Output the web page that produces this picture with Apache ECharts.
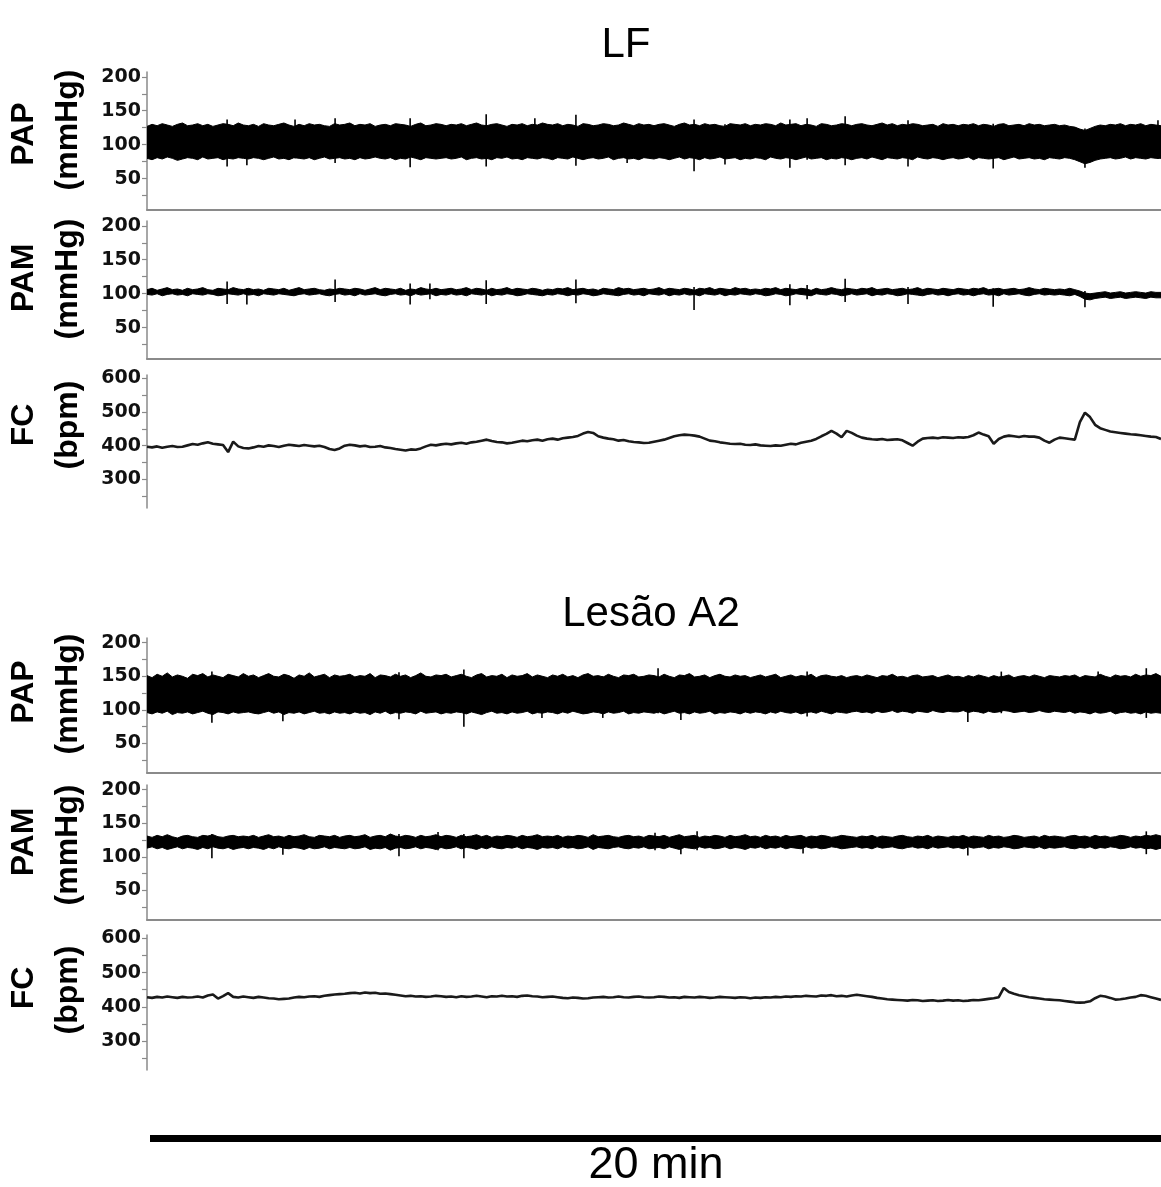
<!DOCTYPE html>
<html><head><meta charset="utf-8">
<script src="https://cdn.jsdelivr.net/npm/echarts@6/dist/echarts.min.js"></script>
<style>html,body{margin:0;padding:0;background:#fff}#c{width:1161px;height:1187px}</style>
</head><body><div id="c"></div>
<script>
// ---- time base: 201 samples spanning the 20 min recording ----
const sampleCount = 201;
const recordMinutes = 20;

// ---- LF : PAP envelope (mmHg) ----
const pap1Hi = [
127,130,128,131,129,127,130,132,128,129,131,128,130,127,129,131,130,128,132,129,
128,130,127,131,129,128,130,132,129,127,130,128,131,129,130,128,127,131,129,130,
132,128,130,129,131,127,129,130,128,131,130,129,127,130,132,128,129,131,130,128,
130,129,131,128,130,132,129,128,130,131,129,127,130,129,131,128,130,129,132,130,
129,131,128,130,129,127,131,130,128,129,131,130,128,129,132,130,128,131,129,130,
128,130,131,129,127,130,132,129,130,128,131,129,130,128,127,131,130,129,131,128,
130,129,131,130,128,132,129,130,131,128,130,129,127,131,130,128,129,131,130,128,
130,131,129,128,130,132,129,131,128,130,129,131,130,128,129,130,127,131,129,130,
128,130,129,131,128,130,129,127,130,131,128,129,130,128,131,129,130,128,129,130,
128,129,127,126,123,121,124,127,129,128,130,129,131,128,130,129,131,128,130,129,128];
const pap1Lo = [
80,78,81,79,82,80,77,79,81,80,78,82,79,80,81,78,80,79,81,80,
79,81,80,78,80,82,79,80,78,81,80,79,81,78,80,82,79,80,81,79,
80,78,81,79,80,82,80,79,81,78,80,79,82,80,78,81,80,79,80,81,
79,80,82,78,80,81,79,80,78,81,80,82,79,80,78,81,80,79,81,80,
78,81,80,79,82,80,78,80,81,79,80,82,78,80,81,79,80,78,81,80,
79,81,80,78,80,82,79,81,80,78,81,79,80,82,79,80,81,78,80,79,
81,80,78,82,80,79,81,80,78,80,82,79,80,81,78,80,79,81,80,78,
80,81,79,82,80,78,81,80,79,81,80,78,82,80,79,81,80,78,80,81,
79,80,82,78,81,80,79,80,81,78,80,82,79,80,81,79,80,78,81,80,
79,81,80,78,75,72,74,77,79,80,81,79,80,82,79,81,80,79,81,80,80];
const pap1SpikeT  = [1.58,1.97,2.92,3.71,5.19,6.69,7.65,8.46,9.47,10.79,11.40,12.68,13.02,13.77,15.01,16.69,18.50,19.94];
const pap1SpikeHi = [137,128,137,139,139,145,139,144,130,137,130,137,139,142,136,131,124,136];
const pap1SpikeLo = [68,70,80,73,67,68,80,69,73,61,71,66,78,70,68,65,66,79];

// ---- LF : PAM (mmHg) ----
const pam1Hi = [
106,108,105,107,109,106,107,105,108,106,107,109,106,105,108,107,106,109,107,106,
108,106,107,105,108,107,106,108,105,107,109,106,107,108,106,105,107,106,108,107,
106,108,107,105,107,109,106,108,107,106,108,105,107,106,109,107,106,108,106,107,
108,106,107,109,106,108,107,105,108,106,107,109,106,108,107,106,108,107,105,107,
106,108,107,109,106,107,108,106,107,105,108,107,106,109,107,108,106,107,108,106,
107,109,106,108,107,106,108,107,105,108,107,109,106,108,107,106,109,107,108,106,
107,106,108,107,109,106,108,107,106,108,107,105,108,106,107,109,107,106,108,107,
106,108,107,109,106,107,108,106,107,108,106,107,109,106,108,107,106,108,107,106,
108,107,106,108,107,109,106,107,108,106,107,108,106,107,109,107,106,108,107,106,
107,106,108,106,104,101,100,101,102,103,101,102,103,101,102,103,102,101,103,102,102];
const pam1Lo = [
99,98,100,97,99,100,98,99,97,100,99,98,100,99,97,98,100,99,98,100,
98,99,97,100,99,98,100,99,98,97,99,100,98,99,100,98,97,99,100,98,
99,97,100,98,99,100,98,97,99,100,98,99,97,100,98,99,100,97,99,98,
100,98,99,97,100,99,98,100,97,99,98,100,99,97,98,100,99,98,97,99,
98,100,99,97,99,98,100,99,97,98,100,99,98,97,99,100,98,99,97,100,
99,98,100,97,99,98,100,98,99,97,100,99,98,100,97,99,98,100,99,98,
100,99,97,98,100,99,97,98,100,99,98,97,100,99,98,100,99,97,98,100,
98,99,100,97,99,98,100,99,97,98,100,99,98,97,99,100,98,99,97,99,
100,98,99,97,99,100,98,99,97,100,98,99,100,98,97,99,100,98,99,98,
99,98,97,99,96,92,91,93,94,95,93,94,95,93,94,95,94,93,95,94,94];
const pam1SpikeT  = [1.58,1.97,3.71,5.19,5.58,6.69,8.46,10.79,12.68,13.02,13.77,15.01,16.69,18.50];
const pam1SpikeHi = [118,108,121,115,115,120,121,110,114,113,122,110,108,104];
const pam1SpikeLo = [85,84,88,84,92,85,86,76,83,92,88,85,81,80];

// ---- LF : FC (bpm) ----
const fc1 = [
397,395,398,394,397,399,396,397,401,405,
403,407,410,406,404,402,381,412,398,393,
392,395,399,397,401,399,396,400,403,401,
399,402,400,398,400,396,390,387,392,400,
403,401,398,400,396,397,399,395,393,390,
388,386,389,388,392,398,403,401,404,406,
404,407,409,406,410,412,415,418,414,411,
410,407,409,412,415,413,416,418,415,419,
421,418,422,424,426,429,436,441,438,428,
424,421,419,415,417,413,411,410,408,409,
412,415,418,423,428,431,433,432,430,427,
421,415,413,410,408,406,405,406,403,402,
404,401,400,399,401,400,403,406,404,409,
412,415,420,428,435,444,436,425,444,438,
430,424,421,419,418,420,417,418,419,416,
408,400,412,421,423,424,422,425,424,423,
425,424,426,431,439,433,428,406,420,427,
430,428,426,429,427,427,424,415,409,418,
424,422,420,418,470,498,485,462,452,447,
442,440,438,436,434,433,431,429,427,426,420];

// ---- Lesão A2 : PAP envelope (mmHg) ----
const pap2Hi = [
151,148,153,150,155,149,152,150,147,153,151,154,149,152,150,148,153,151,149,154,
150,152,148,151,154,150,149,153,151,147,152,150,155,149,151,153,148,152,150,151,
153,149,151,150,154,148,152,151,149,153,150,152,148,151,155,150,149,152,151,153,
149,151,153,150,148,152,154,149,151,150,153,148,152,150,151,154,149,152,150,148,
152,150,153,149,151,148,152,154,150,151,149,153,150,148,152,151,153,149,150,152,
151,149,153,150,148,152,151,154,149,150,152,148,151,153,150,149,152,150,151,148,
150,152,149,151,153,148,150,152,149,151,150,153,148,151,152,150,149,151,148,150,
151,149,152,150,148,151,150,153,149,150,148,151,152,149,150,151,148,150,152,149,
150,148,151,149,152,150,148,151,149,150,152,148,150,151,149,152,150,148,151,150,
149,151,150,152,148,151,150,149,153,150,148,152,150,151,149,153,150,152,151,154,150];
const pap2Lo = [
96,94,97,95,98,93,96,95,97,94,96,98,95,93,97,96,94,97,95,96,
97,95,94,96,98,95,97,93,96,95,97,94,96,98,95,96,94,97,95,96,
94,97,95,96,93,97,95,98,94,96,95,97,96,94,98,95,96,97,94,96,
95,97,96,94,97,95,93,96,98,95,96,94,97,95,96,98,94,96,95,97,
96,94,97,95,98,96,94,95,97,96,94,97,95,96,98,94,96,95,97,96,
95,97,94,96,98,95,96,94,97,95,96,98,94,96,95,97,96,94,97,95,
97,96,94,97,95,98,96,95,97,94,96,97,95,98,96,94,97,96,95,97,
98,96,97,95,98,96,97,99,96,98,97,95,98,97,96,99,97,96,98,97,
97,99,96,98,97,95,98,96,97,99,98,96,97,98,96,97,99,97,96,98,
97,96,98,95,97,96,94,97,95,96,98,94,96,97,95,96,94,97,95,96,95];
const pap2SpikeT  = [1.28,2.68,4.97,6.25,7.79,8.99,10.08,10.53,13.02,16.19,16.85,18.76,19.71];
const pap2SpikeHi = [157,150,156,160,150,150,162,150,157,150,157,157,162];
const pap2SpikeLo = [81,83,86,75,88,88,95,85,90,82,95,95,88];

// ---- Lesão A2 : PAM (mmHg) ----
const pam2Hi = [
131,129,132,130,133,130,128,131,132,130,129,132,131,133,130,129,131,132,130,131,
130,132,129,131,133,130,131,129,132,130,131,133,130,129,132,131,130,132,129,131,
132,130,131,133,129,131,132,130,134,131,130,132,131,129,132,130,131,133,130,132,
131,129,132,130,131,133,130,132,129,131,130,132,131,129,132,130,131,133,130,131,
130,132,129,131,130,132,131,129,133,130,131,132,130,129,131,132,130,131,129,132,
131,130,132,129,131,133,130,131,132,129,131,130,132,131,129,132,130,131,133,130,
131,129,132,130,131,129,132,130,131,132,129,131,130,132,131,129,130,132,131,130,
129,131,130,132,129,131,130,129,131,132,130,129,131,130,132,129,131,130,129,131,
130,132,129,131,130,129,132,130,131,129,130,132,131,129,130,131,129,132,130,131,
130,129,131,132,130,131,129,132,130,131,129,130,132,131,129,131,130,132,131,133,131];
const pam2Lo = [
113,115,112,114,111,113,115,112,114,113,111,114,112,115,113,112,114,111,113,114,
112,114,113,111,114,112,115,113,112,114,113,111,114,112,113,115,112,114,113,112,
114,112,113,115,111,113,112,114,110,113,114,112,113,115,112,114,113,111,114,112,
113,115,112,114,113,111,114,112,115,113,112,114,113,115,112,114,113,111,114,113,
114,112,115,113,114,112,113,115,111,114,113,112,114,115,113,112,114,113,115,112,
113,114,112,115,113,111,114,113,112,115,113,114,112,113,115,112,114,113,111,114,
113,115,112,114,113,115,112,114,113,112,115,113,114,112,113,115,114,112,113,114,
115,113,114,112,115,113,114,115,113,112,114,115,113,114,112,115,113,114,115,113,
114,112,115,113,114,115,112,114,113,115,114,112,113,115,114,113,115,112,114,113,
114,115,113,112,114,113,115,112,114,113,115,114,112,113,115,113,114,112,113,111,113];
const pam2SpikeT  = [1.28,2.68,4.97,5.74,6.25,10.02,10.53,10.85,12.94,16.19,19.71];
const pam2SpikeHi = [134,130,134,137,134,136,130,138,130,130,138];
const pam2SpikeLo = [98,103,101,110,98,110,104,110,105,102,104];

// ---- Lesão A2 : FC (bpm) ----
const fc2 = [
428,426,429,427,430,428,426,429,427,428,
430,427,433,436,424,431,440,429,427,430,
428,426,429,427,425,424,422,423,424,427,
429,428,430,431,429,432,434,436,437,438,
440,441,439,442,440,441,438,439,437,435,
433,431,432,430,431,429,430,432,431,429,
430,428,431,429,430,432,430,428,431,430,
432,430,431,429,432,433,431,430,428,429,
430,428,426,425,427,426,424,425,427,428,
429,427,428,430,428,427,429,430,428,427,
428,430,429,427,428,426,429,428,427,429,
428,426,427,429,428,427,426,428,427,425,
427,426,428,427,429,428,430,429,431,430,
432,431,430,433,432,434,431,432,430,433,
435,433,431,429,426,424,422,421,420,419,
418,420,419,417,418,419,417,418,420,418,
419,417,418,420,419,421,423,425,428,455,
443,438,434,431,428,426,424,422,421,420,
419,417,415,413,412,413,416,425,432,430,
426,421,422,424,427,429,434,432,428,424,420];

// ---- axis ticks / labels ----
const pressureTicks  = [25,50,75,100,125,150,175,200];
const pressureLabels = [50,100,150,200];
const fcTicks  = [250,300,350,400,450,500,550,600];
const fcLabels = [300,400,500,600];

// ---- panels (layout) ----
const panels = [
  {top:72,  height:138, kind:'band', hi:pap1Hi, lo:pap1Lo, sT:pap1SpikeT, sH:pap1SpikeHi, sL:pap1SpikeLo, min:4, max:207, line:true,
   l1:'PAP', l2:'(mmHg)', y1:134, y2:130},
  {top:221, height:138, kind:'band', hi:pam1Hi, lo:pam1Lo, sT:pam1SpikeT, sH:pam1SpikeHi, sL:pam1SpikeLo, min:4, max:207, line:true,
   l1:'PAM', l2:'(mmHg)', y1:278, y2:279},
  {top:375, height:133, kind:'fc', v:fc1, min:215, max:610, line:false,
   l1:'FC', l2:'(bpm)', y1:425, y2:425},
  {top:638, height:135, kind:'band', hi:pap2Hi, lo:pap2Lo, sT:pap2SpikeT, sH:pap2SpikeHi, sL:pap2SpikeLo, min:6, max:207, line:true,
   l1:'PAP', l2:'(mmHg)', y1:692, y2:694},
  {top:785, height:135, kind:'band', hi:pam2Hi, lo:pam2Lo, sT:pam2SpikeT, sH:pam2SpikeHi, sL:pam2SpikeLo, min:6, max:207, line:true,
   l1:'PAM', l2:'(mmHg)', y1:842, y2:845},
  {top:935, height:135, kind:'fc', v:fc2, min:215, max:610, line:false,
   l1:'FC', l2:'(bpm)', y1:988, y2:990}
];

const sampleIdx = Array.from({length: sampleCount}, (_, i) => i);
const axisGray = '#8a8a8a';
const grid = [], xAxis = [], yAxis = [], series = [];
const graphic = [];

function spikeRender(params, api) {
  const a = api.coord([api.value(0), api.value(1)]);
  const b = api.coord([api.value(0), api.value(2)]);
  return {type:'line', shape:{x1:a[0], y1:a[1], x2:b[0], y2:b[1]},
          style:{stroke:'#000', lineWidth:1.6}};
}

panels.forEach((p, k) => {
  grid.push({left:147, right:0, top:p.top, height:p.height});
  xAxis.push({gridIndex:k, type:'category', data:sampleIdx, boundaryGap:false,
    axisLine:{show:p.line, onZero:false, lineStyle:{color:axisGray, width:2}},
    axisTick:{show:false}, axisLabel:{show:false}, splitLine:{show:false}});
  xAxis.push({gridIndex:k, type:'value', min:0, max:recordMinutes, show:false});
  const isFc = p.kind === 'fc';
  yAxis.push({gridIndex:k, type:'value', min:p.min, max:p.max,
    axisLine:{show:true, lineStyle:{color:axisGray, width:1.5}},
    axisTick:{show:true, length:5, customValues: isFc ? fcTicks : pressureTicks, lineStyle:{color:axisGray, width:1.2}},
    axisLabel:{show:true, customValues: isFc ? fcLabels : pressureLabels, fontFamily:'DejaVu Sans', fontWeight:'bold',
      fontSize:19, color:'#111', margin:6},
    splitLine:{show:false}});
  if (isFc) {
    series.push({type:'line', xAxisIndex:2*k, yAxisIndex:k, data:p.v, symbol:'none',
      lineStyle:{color:'#1a1a1a', width:2.6}, silent:true, animation:false});
  } else {
    const n = Math.min(p.hi.length, p.lo.length);
    const diff = [];
    for (let i = 0; i < n; i++) diff.push(p.hi[i] - p.lo[i]);
    series.push({type:'line', xAxisIndex:2*k, yAxisIndex:k, stack:'band'+k, data:p.lo.slice(0,n), symbol:'none',
      lineStyle:{color:'#000', width:1}, silent:true, animation:false});
    series.push({type:'line', xAxisIndex:2*k, yAxisIndex:k, stack:'band'+k, data:diff, symbol:'none',
      lineStyle:{color:'#000', width:1}, areaStyle:{color:'#000', opacity:1}, silent:true, animation:false});
    series.push({type:'custom', xAxisIndex:2*k+1, yAxisIndex:k, renderItem:spikeRender,
      data:p.sT.map((t, j) => [t, p.sL[j], p.sH[j]]), silent:true, animation:false, clip:true});
  }
  graphic.push({type:'text', x:24, y:p.y1, rotation:Math.PI/2,
    style:{text:p.l1, font:'bold 32px "Liberation Sans", Arial, sans-serif', fill:'#000', align:'center', verticalAlign:'middle'}});
  graphic.push({type:'text', x:68, y:p.y2, rotation:Math.PI/2,
    style:{text:p.l2, font:'bold 32px "Liberation Sans", Arial, sans-serif', fill:'#000', align:'center', verticalAlign:'middle'}});
});

graphic.push({type:'text', x:626, y:45, style:{text:'LF', font:'42px "Liberation Sans", Arial, sans-serif', fill:'#000', align:'center', verticalAlign:'middle'}});
graphic.push({type:'text', x:651, y:614, style:{text:'Lesão A2', font:'42px "Liberation Sans", Arial, sans-serif', fill:'#000', align:'center', verticalAlign:'middle'}});
graphic.push({type:'rect', shape:{x:150, y:1135, width:1011, height:7}, style:{fill:'#000'}});
graphic.push({type:'text', x:656, y:1166, style:{text:'20 min', font:'45px "Liberation Sans", Arial, sans-serif', fill:'#000', align:'center', verticalAlign:'middle'}});

const chart = echarts.init(document.getElementById('c'), null, {width:1161, height:1187, renderer:'canvas'});
chart.setOption({backgroundColor:'#fff', animation:false, grid, xAxis, yAxis, series, graphic});
</script>
</body></html>
